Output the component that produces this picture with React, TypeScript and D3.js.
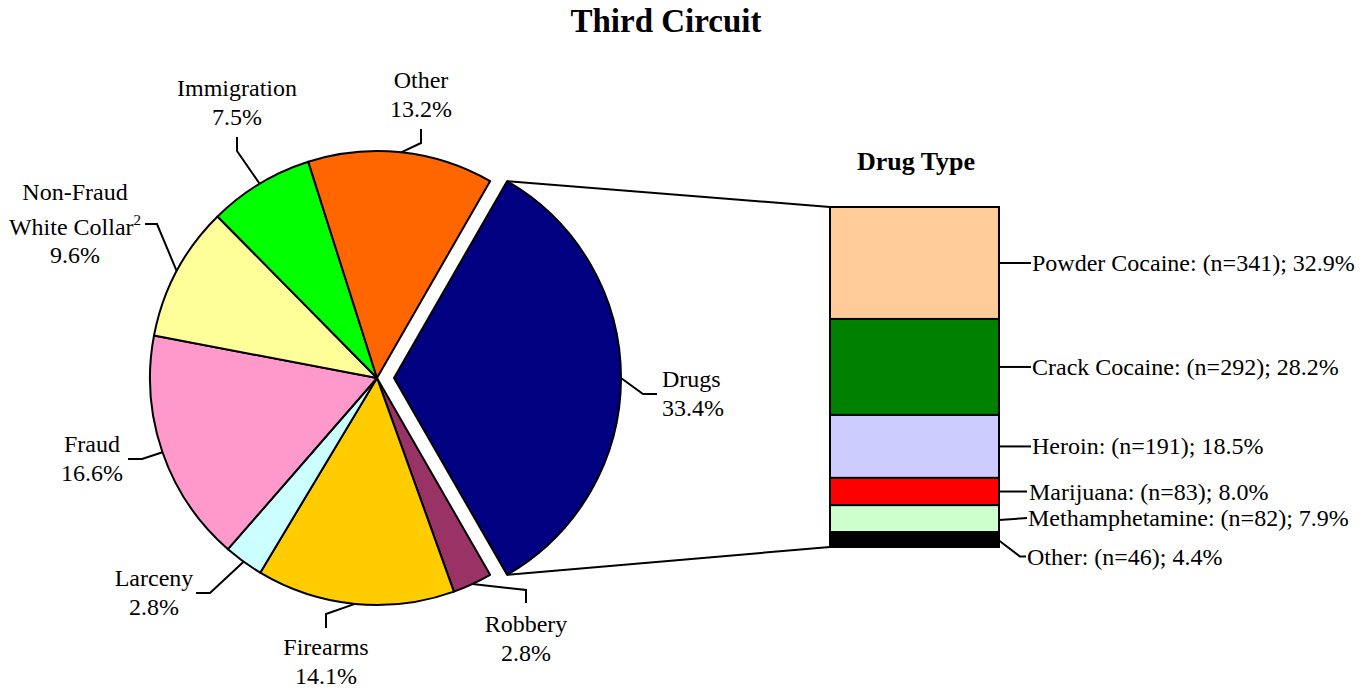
import React from "react";
import * as d3 from "d3";

const categories = ["Drugs", "Robbery", "Firearms", "Larceny", "Fraud", "Non-Fraud White Collar", "Immigration", "Other"];
const shares = [33.4, 2.8, 14.1, 2.8, 16.6, 9.6, 7.5, 13.2];
const sliceColors = ["#000080", "#993366", "#FFCC00", "#CCFFFF", "#FF99CC", "#FFFF99", "#00FF00", "#FF6600"];

const drugTypes = ["Powder Cocaine", "Crack Cocaine", "Heroin", "Marijuana", "Methamphetamine", "Other"];
const drugCounts = [341, 292, 191, 83, 82, 46];
const drugShares = [32.9, 28.2, 18.5, 8.0, 7.9, 4.4];
const drugColors = ["#FFCC99", "#008000", "#CCCCFF", "#FF0000", "#CCFFCC", "#000000"];

const FONT = "'Liberation Serif', 'Times New Roman', serif";
const W = 1372, H = 688;
const CX = 377, CY = 378, R = 227, EXPLODE = 17;
const BAR_X0 = 830, BAR_X1 = 999, BAR_Y0 = 207, BAR_Y1 = 547;
const FS = 24, LH = 29;

// label layout: leader elbow / end points and text anchor (layout only)
type Lay = { elbow: [number, number]; end: [number, number]; tx: number; ty: number; anchor: string };
const pieLayout: Lay[] = [
  { elbow: [643, 394], end: [657, 394], tx: 662, ty: 387, anchor: "start" },
  { elbow: [526, 590], end: [526, 603], tx: 526, ty: 632, anchor: "middle" },
  { elbow: [326, 614], end: [326, 628], tx: 326, ty: 655, anchor: "middle" },
  { elbow: [210, 593], end: [196, 593], tx: 154, ty: 586, anchor: "middle" },
  { elbow: [142, 459], end: [128, 459], tx: 92, ty: 452, anchor: "middle" },
  { elbow: [157, 224], end: [145, 224], tx: 75, ty: 200, anchor: "middle" },
  { elbow: [237, 151], end: [237, 137], tx: 237, ty: 96, anchor: "middle" },
  { elbow: [421, 143], end: [421, 129], tx: 421, ty: 88, anchor: "middle" },
];

export default function App() {
  const total = d3.sum(shares);
  const drugFrac = shares[0] / total;
  const start = Math.PI / 2 - drugFrac * Math.PI;
  const pie = d3.pie<number>().sort(null).value((d) => d).startAngle(start).endAngle(start + 2 * Math.PI);
  const arcs = pie(shares);
  const arc = d3.arc<d3.PieArcDatum<number>>().innerRadius(0).outerRadius(R);

  const drugArc = arcs[0];
  const mid0 = (drugArc.startAngle + drugArc.endAngle) / 2;
  const offX = EXPLODE * Math.sin(mid0);
  const offY = -EXPLODE * Math.cos(mid0);
  const pt = (a: number, dx = 0, dy = 0): [number, number] => [CX + dx + R * Math.sin(a), CY + dy - R * Math.cos(a)];
  const dTop = pt(drugArc.startAngle, offX, offY);
  const dBot = pt(drugArc.endAngle, offX, offY);

  const y = d3.scaleLinear().domain([0, d3.sum(drugShares)]).range([BAR_Y0, BAR_Y1]);
  const cum = drugShares.map((_, i) => d3.sum(drugShares.slice(0, i)));

  const pctText = (v: number) => v.toFixed(1) + "%";

  return (
    <svg width={W} height={H} style={{ position: "absolute", left: 0, top: 0 }} fontFamily={FONT}>
      <rect width={W} height={H} fill="#fff" />
      <text x={666} y={32} textAnchor="middle" fontSize={33} fontWeight="bold">Third Circuit</text>

      {/* connector lines */}
      <line x1={dTop[0]} y1={dTop[1]} x2={BAR_X0} y2={BAR_Y0} stroke="#000" strokeWidth={2} />
      <line x1={dBot[0]} y1={dBot[1]} x2={BAR_X0} y2={BAR_Y1} stroke="#000" strokeWidth={2} />

      {/* pie */}
      <g transform={`translate(${CX},${CY})`}>
        {arcs.map((a, i) => (
          <path key={i} d={arc(a) || ""} fill={sliceColors[i]} stroke="#000" strokeWidth={2} strokeLinejoin="round"
            transform={i === 0 ? `translate(${offX},${offY})` : undefined} />
        ))}
      </g>

      {/* pie labels */}
      {arcs.map((a, i) => {
        const m = (a.startAngle + a.endAngle) / 2;
        const p = i === 0 ? pt(m, offX, offY) : pt(m);
        const L = pieLayout[i];
        const name = categories[i];
        return (
          <g key={"l" + i}>
            <polyline points={`${p[0]},${p[1]} ${L.elbow[0]},${L.elbow[1]} ${L.end[0]},${L.end[1]}`} fill="none" stroke="#000" strokeWidth={2} />
            {name === "Non-Fraud White Collar" ? (
              <text x={L.tx} textAnchor={L.anchor} fontSize={FS}>
                <tspan x={L.tx} y={L.ty}>Non-Fraud</tspan>
                <tspan x={L.tx} y={L.ty + 35}>White Collar<tspan fontSize={15} dy={-10}>2</tspan></tspan>
                <tspan x={L.tx} y={L.ty + 63}>{pctText(shares[i])}</tspan>
              </text>
            ) : (
              <text x={L.tx} textAnchor={L.anchor} fontSize={FS}>
                <tspan x={L.tx} y={L.ty}>{name}</tspan>
                <tspan x={L.tx} y={L.ty + LH}>{pctText(shares[i])}</tspan>
              </text>
            )}
          </g>
        );
      })}

      {/* drug bar */}
      <text x={916} y={170} textAnchor="middle" fontSize={26} fontWeight="bold">Drug Type</text>
      {drugShares.map((v, i) => (
        <rect key={"b" + i} x={BAR_X0} y={y(cum[i])} width={BAR_X1 - BAR_X0} height={y(cum[i] + v) - y(cum[i])}
          fill={drugColors[i]} stroke="#000" strokeWidth={2} />
      ))}
      {drugShares.map((v, i) => {
        const mid = (y(cum[i]) + y(cum[i] + v)) / 2;
        let pts: string;
        let ty: number;
        let tx = BAR_X1 + 33;
        if (i === drugShares.length - 1) {
          pts = `${BAR_X1},${mid + 1} ${BAR_X1 + 21},${mid + 17} ${BAR_X1 + 27},${mid + 17}`;
          ty = mid + 25;
          tx = BAR_X1 + 28;
        } else if (i === 4) {
          pts = `${BAR_X1},${mid + 1.5} ${BAR_X1 + 28},${mid - 0.5}`;
          ty = mid + 7;
          tx = BAR_X1 + 29;
        } else if (i === 3) {
          pts = `${BAR_X1},${mid} ${BAR_X1 + 28},${mid}`;
          ty = mid + 8;
          tx = BAR_X1 + 30;
        } else {
          pts = `${BAR_X1},${mid} ${BAR_X1 + 32},${mid}`;
          ty = mid + 8;
        }
        return (
          <g key={"bl" + i}>
            <polyline points={pts} fill="none" stroke="#000" strokeWidth={2} />
            <text x={tx} y={ty} fontSize={FS}>{`${drugTypes[i]}: (n=${drugCounts[i]}); ${pctText(v)}`}</text>
          </g>
        );
      })}
    </svg>
  );
}
